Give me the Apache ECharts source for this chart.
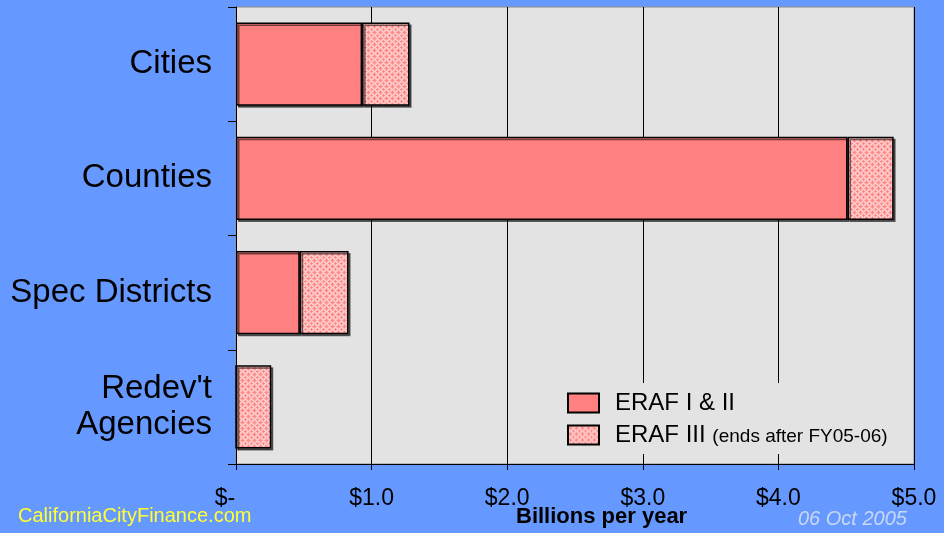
<!DOCTYPE html>
<html>
<head>
<meta charset="utf-8">
<script src="https://cdn.jsdelivr.net/npm/echarts@6/dist/echarts.min.js"></script>
<style>
html,body{margin:0;padding:0;background:#6699FF;}
#chart{width:944px;height:533px;}
</style>
</head>
<body>
<div id="chart"></div>
<script>
var categories = ["Cities", "Counties", "Spec Districts", "Redev't\nAgencies"];
var erafOneTwo = [0.93, 4.51, 0.47, 0];
var erafThree = [0.35, 0.34, 0.36, 0.26];
var xTicks = [0, 1, 2, 3, 4, 5];

// hatched tile
var tile = document.createElement('canvas');
tile.width = 6; tile.height = 6;
var tc = tile.getContext('2d');
tc.fillStyle = '#FFCACA'; tc.fillRect(0, 0, 6, 6);
tc.fillStyle = '#FF8A8A';
[[2,1],[1,2],[2,2],[3,2],[2,3],[5,4],[4,5],[5,5],[0,5],[5,0]].forEach(function(p){ tc.fillRect(p[0], p[1], 1, 1); });
tc.fillStyle = '#FFA8A8';
[[1,1],[3,1],[1,3],[3,3],[2,0],[0,2],[4,2],[2,4]].forEach(function(p){ tc.fillRect(p[0], p[1], 1, 1); });
var pattern = {image: tile, repeat: 'repeat'};

var chart = echarts.init(document.getElementById('chart'));
var font = 'Liberation Sans, Arial, sans-serif';
chart.setOption({
  backgroundColor: '#6699FF',
  animation: false,
  grid: {left: 236, right: 30, top: 7, bottom: 69, show: true, backgroundColor: '#E3E3E3', borderColor: '#8A8A8A', borderWidth: 1},
  xAxis: {
    type: 'value', min: 0, max: 5, interval: 1,
    axisLine: {show: true, lineStyle: {color: '#000', width: 1}},
    axisTick: {show: true, length: 6, lineStyle: {color: '#000'}},
    splitLine: {show: true, lineStyle: {color: '#000', width: 1}},
    axisLabel: {
      margin: 23, color: '#000', fontSize: 23, fontFamily: font,
      formatter: function(v){ return v === 0 ? '{z|$-}' : '$' + v.toFixed(1); },
      rich: {z: {fontSize: 23, fontFamily: font, color: '#000', padding: [0, 22, 0, 0]}}
    }
  },
  yAxis: {
    type: 'category', data: categories, inverse: true,
    axisLine: {show: true, lineStyle: {color: '#000', width: 1}},
    axisTick: {show: true, length: 8, lineStyle: {color: '#000'}},
    axisLabel: {margin: 24, color: '#000', fontSize: 33, fontFamily: font, lineHeight: 36, align: 'right', padding: [11, 0, 0, 0]}
  },
  legend: {
    orient: 'vertical', left: 556, top: 383,
    backgroundColor: '#E3E3E3',
    padding: [8, 20, 7, 11],
    itemWidth: 31, itemHeight: 19, itemGap: 8,
    data: [{name: 'ERAF I & II', icon: 'rect'}, {name: 'ERAF III', icon: 'rect'}],
    formatter: function(n){ return n === 'ERAF III' ? n + ' {s|(ends after FY05-06)}' : n; },
    textStyle: {
      color: '#000', fontSize: 24, fontFamily: font, padding: [0, 0, 0, 11],
      rich: {s: {fontSize: 19, fontFamily: font, color: '#000', padding: [4, 0, 0, 0]}}
    }
  },
  series: [
    {
      name: 'ERAF I & II', type: 'bar', stack: 'total', data: erafOneTwo,
      barCategoryGap: '27%',
      itemStyle: {color: '#FF8080', borderColor: '#000', borderWidth: 1.5,
        shadowColor: 'rgba(0,0,0,0.55)', shadowOffsetX: 2, shadowOffsetY: 2, shadowBlur: 0}
    },
    {
      name: 'ERAF III', type: 'bar', stack: 'total', data: erafThree,
      barCategoryGap: '27%',
      itemStyle: {color: pattern, borderColor: '#000', borderWidth: 1.5,
        shadowColor: 'rgba(0,0,0,0.55)', shadowOffsetX: 2, shadowOffsetY: 2, shadowBlur: 0}
    }
  ],
  graphic: [
    {type: 'text', left: 516, top: 506, style: {text: 'Billions per year', fill: '#000', font: 'bold 22px Liberation Sans, Arial, sans-serif'}},
    {type: 'text', left: 18, top: 506, style: {text: 'CaliforniaCityFinance.com', fill: '#FFFF33', font: '20px Liberation Sans Narrow, sans-serif'}},
    {type: 'text', left: 798, top: 509, style: {text: '06 Oct 2005', fill: '#C9D7F2', font: 'italic 20px Liberation Sans, Arial, sans-serif'}}
  ]
});
</script>
</body>
</html>
